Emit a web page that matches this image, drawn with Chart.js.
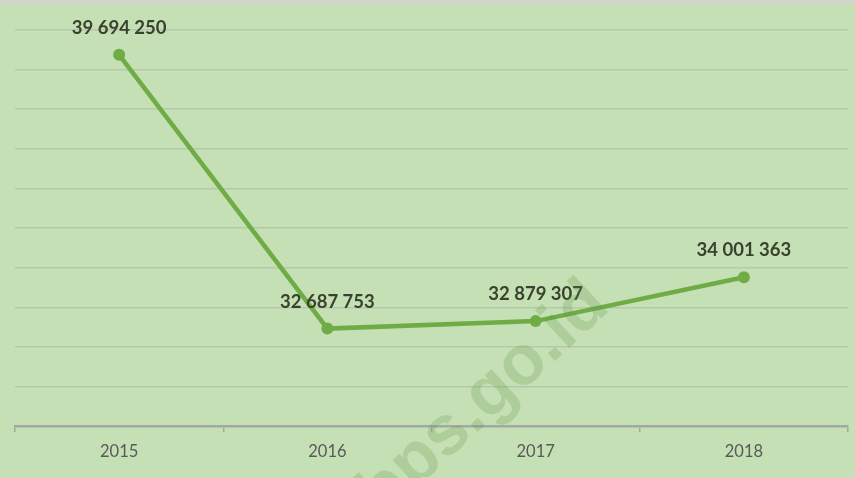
<!DOCTYPE html>
<html><head><meta charset="utf-8">
<script src="https://cdn.jsdelivr.net/npm/chart.js@4.4.1/dist/chart.umd.min.js"></script>
<style>
html,body{margin:0;padding:0;background:#c5e0b4;}
#wrap{width:855px;height:478px;position:relative;}
</style></head>
<body><div id="wrap"><canvas id="c"></canvas></div>
<script>
const years = ['2015', '2016', '2017', '2018'];
const values = [39694250, 32687753, 32879307, 34001363];
const yMin = 30190000;
const yMax = 40330000;
const watermark = 'bps.go.id';

function fmt(v) { return String(v).replace(/\B(?=(\d{3})+(?!\d))/g, ' '); }

const bgPlugin = {
  id: 'bg',
  beforeDraw(chart) {
    const ctx = chart.ctx;
    ctx.save();
    ctx.fillStyle = '#c5e0b4';
    ctx.fillRect(0, 0, chart.width, chart.height);
    ctx.fillStyle = '#d0d6ca';
    ctx.fillRect(0, 0, chart.width, 4);
    ctx.restore();
  }
};

const labelPlugin = {
  id: 'vlabels',
  afterDatasetsDraw(chart) {
    const ctx = chart.ctx;
    const meta = chart.getDatasetMeta(0);
    ctx.save();
    ctx.font = 'bold 18.5px Lato';
    ctx.fillStyle = '#38422f';
    ctx.textAlign = 'center';
    ctx.textBaseline = 'middle';
    meta.data.forEach((pt, i) => {
      ctx.fillText(fmt(values[i]), pt.x, pt.y - 27);
    });
    ctx.restore();
  },
  afterDraw(chart) {
    const ctx = chart.ctx;
    ctx.save();
    ctx.translate(484, 400);
    ctx.rotate(-42.6 * Math.PI / 180);
    ctx.font = 'bold 70px "Liberation Sans"';
    ctx.fillStyle = 'rgba(95,150,70,0.24)';
    ctx.textAlign = 'center';
    ctx.textBaseline = 'middle';
    ctx.fillText(watermark, 0, 0);
    ctx.restore();
  }
};

new Chart(document.getElementById('c'), {
  type: 'line',
  data: {
    labels: years,
    datasets: [{
      data: values,
      borderColor: '#6fac46',
      backgroundColor: '#6fac46',
      borderWidth: 4.5,
      pointRadius: 6,
      pointHoverRadius: 6,
      pointBorderWidth: 0,
      tension: 0,
      fill: false
    }]
  },
  options: {
    responsive: true,
    maintainAspectRatio: false,
    animation: false,
    layout: { padding: { left: 15, right: 7, top: 30, bottom: 6 } },
    plugins: { legend: { display: false }, tooltip: { enabled: false } },
    scales: {
      x: {
        type: 'category',
        offset: true,
        grid: {
          display: true,
          offset: true,
          drawOnChartArea: false,
          drawTicks: true,
          tickLength: 6,
          color: '#a3a8a0',
          lineWidth: 1.5
        },
        border: { display: true, color: '#a3a8a0', width: 2.5 },
        ticks: {
          color: '#595959',
          font: { family: 'Lato', size: 16.5 },
          padding: 10,
          maxRotation: 0
        }
      },
      y: {
        min: yMin,
        max: yMax,
        ticks: { display: false, count: 11 },
        grid: { color: 'rgba(165,175,160,0.5)', lineWidth: 1.5, drawTicks: false },
        border: { display: false }
      }
    }
  },
  plugins: [bgPlugin, labelPlugin]
});
</script>
</body></html>
